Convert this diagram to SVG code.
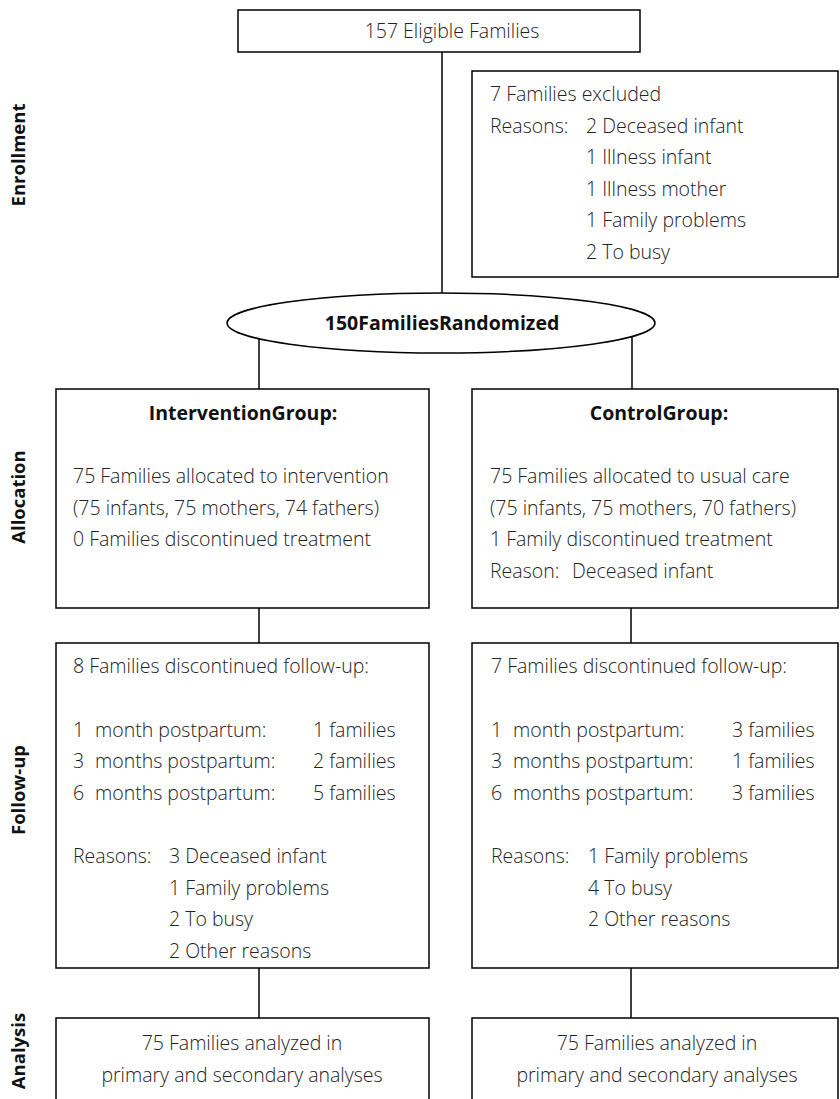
<svg xmlns="http://www.w3.org/2000/svg" width="840" height="1099" viewBox="0 0 840 1099">
<style>
.box{fill:#fff;stroke:#000;stroke-width:1.5}
.t{font-family:"Open Sans","Noto Sans",sans-serif;font-size:19.5px;font-weight:300;fill:#222}
.c{text-anchor:middle}
.b{font-family:"Open Sans","Noto Sans",sans-serif;font-weight:bold;font-size:19.5px;fill:#111;text-anchor:middle}
.side{font-family:"Open Sans","Noto Sans",sans-serif;font-weight:bold;font-size:18.5px;fill:#111;text-anchor:middle}
.conn line{stroke:#000;stroke-width:1.5}
</style>
<rect width="840" height="1099" fill="#fff"/>
<g class="conn">
<line x1="442" y1="52" x2="442" y2="293"/>
<line x1="259" y1="339" x2="259" y2="389"/>
<line x1="632" y1="337" x2="632" y2="389"/>
<line x1="259" y1="608" x2="259" y2="643"/>
<line x1="631" y1="608" x2="631" y2="643"/>
<line x1="259" y1="968" x2="259" y2="1018"/>
<line x1="631" y1="968" x2="631" y2="1018"/>
</g>
<g id="labels">
<text class="side" transform="translate(25,155) rotate(-90)">Enrollment</text>
<text class="side" transform="translate(25,497) rotate(-90)">Allocation</text>
<text class="side" transform="translate(25,790) rotate(-90)">Follow-up</text>
<text class="side" transform="translate(25,1051) rotate(-90)">Analysis</text>
</g>
<g id="eligible">
<rect class="box" x="238" y="10" width="402" height="42"/>
<text class="t c" x="452" y="38">157 Eligible Families</text>
</g>
<g id="excluded">
<rect class="box" x="472" y="71" width="366" height="206"/>
<text class="t" x="490" y="101">7 Families excluded</text>
<text class="t" x="490" y="133">Reasons:</text>
<text class="t" x="586" y="133">2 Deceased infant</text>
<text class="t" x="586" y="164">1 Illness infant</text>
<text class="t" x="586" y="196">1 Illness mother</text>
<text class="t" x="586" y="227">1 Family problems</text>
<text class="t" x="586" y="259">2 To busy</text>
</g>
<g id="randomized">
<ellipse class="box" cx="441" cy="323" rx="214" ry="30"/>
<text class="b" x="442" y="330">150FamiliesRandomized</text>
</g>
<g id="intervention">
<rect class="box" x="56" y="389" width="373" height="219"/>
<text class="b" x="243" y="420">InterventionGroup:</text>
<text class="t" x="73" y="483">75 Families allocated to intervention</text>
<text class="t" x="73" y="515">(75 infants, 75 mothers, 74 fathers)</text>
<text class="t" x="73" y="546">0 Families discontinued treatment</text>
</g>
<g id="control">
<rect class="box" x="472" y="389" width="366" height="219"/>
<text class="b" x="659" y="420">ControlGroup:</text>
<text class="t" x="490" y="483">75 Families allocated to usual care</text>
<text class="t" x="490" y="515">(75 infants, 75 mothers, 70 fathers)</text>
<text class="t" x="490" y="546">1 Family discontinued treatment</text>
<text class="t" x="490" y="578">Reason:</text>
<text class="t" x="572" y="578">Deceased infant</text>
</g>
<g id="followup-intervention">
<rect class="box" x="56" y="643" width="373" height="325"/>
<text class="t" x="73" y="673">8 Families discontinued follow-up:</text>
<text class="t" x="73" y="737">1</text><text class="t" x="95" y="737">month postpartum:</text><text class="t" x="313" y="737">1 families</text>
<text class="t" x="73" y="768">3</text><text class="t" x="95" y="768">months postpartum:</text><text class="t" x="313" y="768">2 families</text>
<text class="t" x="73" y="800">6</text><text class="t" x="95" y="800">months postpartum:</text><text class="t" x="313" y="800">5 families</text>
<text class="t" x="73" y="863">Reasons:</text>
<text class="t" x="169" y="863">3 Deceased infant</text>
<text class="t" x="169" y="895">1 Family problems</text>
<text class="t" x="169" y="926">2 To busy</text>
<text class="t" x="169" y="958">2 Other reasons</text>
</g>
<g id="followup-control">
<rect class="box" x="472" y="643" width="366" height="325"/>
<text class="t" x="491" y="673">7 Families discontinued follow-up:</text>
<text class="t" x="491" y="737">1</text><text class="t" x="513" y="737">month postpartum:</text><text class="t" x="732" y="737">3 families</text>
<text class="t" x="491" y="768">3</text><text class="t" x="513" y="768">months postpartum:</text><text class="t" x="732" y="768">1 families</text>
<text class="t" x="491" y="800">6</text><text class="t" x="513" y="800">months postpartum:</text><text class="t" x="732" y="800">3 families</text>
<text class="t" x="491" y="863">Reasons:</text>
<text class="t" x="588" y="863">1 Family problems</text>
<text class="t" x="588" y="895">4 To busy</text>
<text class="t" x="588" y="926">2 Other reasons</text>
</g>
<g id="analysis-intervention">
<rect class="box" x="56" y="1018" width="373" height="95"/>
<text class="t c" x="242" y="1050">75 Families analyzed in</text>
<text class="t c" x="242" y="1082">primary and secondary analyses</text>
</g>
<g id="analysis-control">
<rect class="box" x="472" y="1018" width="366" height="95"/>
<text class="t c" x="657" y="1050">75 Families analyzed in</text>
<text class="t c" x="657" y="1082">primary and secondary analyses</text>
</g>
</svg>
